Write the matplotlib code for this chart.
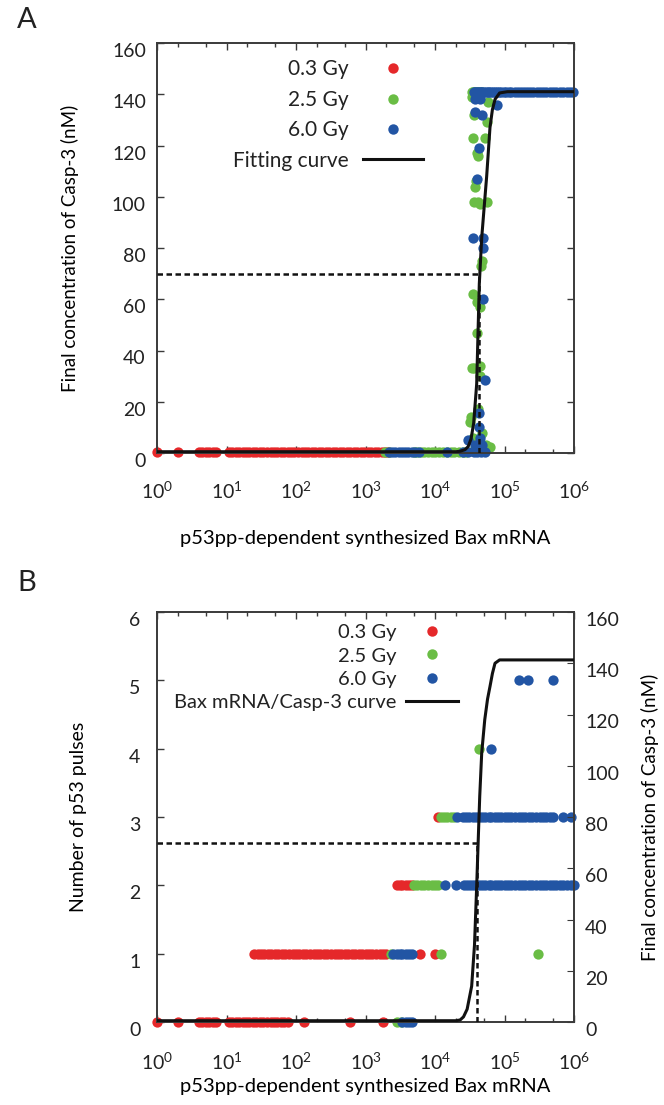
import numpy as np
import matplotlib
matplotlib.use("Agg")
import matplotlib.pyplot as plt
from matplotlib.ticker import LogLocator, FixedLocator, FuncFormatter, NullFormatter
from matplotlib.lines import Line2D
from matplotlib.transforms import ScaledTranslation

plt.rcParams['font.family'] = ['Lato', 'DejaVu Sans']
plt.rcParams['mathtext.fontset'] = 'custom'
plt.rcParams['mathtext.rm'] = 'Lato'
plt.rcParams['mathtext.it'] = 'Lato:italic'
plt.rcParams['text.color'] = '#222222'

RED = '#e5282a'
GREEN = '#6abd45'
BLUE = '#2255a4'

# ---------------- Panel A data: Bax mRNA vs final Casp-3 (nM) ----------------
a_red_x = [1, 2, 4, 4.5, 5, 5.6, 6.3, 7, 11, 12, 13.5, 15, 17, 19, 21, 24, 27, 30, 34,
           38, 43, 48, 54, 60, 68, 76, 85, 95, 107, 120, 135, 150, 170, 190, 215, 240,
           270, 300, 340, 380, 430, 480, 540, 600, 680, 760, 850, 950, 1070, 1200,
           1350, 1500, 1700, 1900, 2100]

# 2.5 Gy: low branch, plateau, transition cells
a_green_low_x = [1900, 2200, 5000, 5600, 6300, 7000, 8000, 9000, 10000, 11500, 13000,
                 15000, 17000, 19000, 22000, 25000, 28000]
a_green_top_x = [34000, 35000, 36500, 38000, 40000, 42000, 45000, 48000]
a_green_mid_x = [34000, 58000, 36500, 55400, 34700, 52500, 39800, 41000, 37600, 38500,
                 36500, 41700, 44000, 55400, 47000, 46000, 35600, 39800, 44000, 40600,
                 33700, 36000, 44700, 44700, 31900, 33000, 41000, 47000, 35000, 55000,
                 61800, 38000]
a_green_mid_y = [139, 137, 132, 129, 123, 123, 117, 116, 104, 106,
                 98, 98, 97, 98, 75, 73, 62, 59, 57, 47,
                 33, 33, 34, 30, 12, 14, 17, 8, 6, 3,
                 2.5, 2]

# 6.0 Gy
a_blue_low_x = [2200, 2400, 2700, 3000, 3300, 3700, 4100, 4600, 5200, 5800, 15000, 25000,
                30000, 36000, 40000, 46000, 52000]
a_blue_top_x = [36000, 38000, 40000, 42000, 44000, 46000, 48000, 51000, 54000, 57000,
                60000, 64000, 68000, 73000, 78000, 84000, 90000, 97000, 105000, 115000,
                125000, 140000, 155000, 170000, 190000, 210000, 235000, 260000, 290000,
                320000, 360000, 400000, 450000, 500000, 560000, 630000, 700000, 790000,
                880000, 980000]
a_blue_mid_x = [38000, 42000, 45000, 37600, 47000, 77000, 43400, 40600, 35600, 49600,
                48500, 49600, 52500, 43400, 43400, 44000, 30000, 38000, 48000]
a_blue_mid_y = [138, 139, 138, 133, 132, 136, 119, 107, 84, 84,
                80, 60, 28.5, 15.5, 10, 6, 5, 3, 3]

low_level = 0.5
top_level = 141

# fitted Bax mRNA / Casp-3 curves
a_curve_x = [1, 20000, 23000, 27000, 30000, 33000, 36000, 39800, 43400, 47000, 51000,
             55400, 61800, 67000, 73000, 85000, 110000, 1000000]
a_curve_y = [0.5, 0.5, 0.7, 1.3, 2.5, 5.5, 11.6, 27, 66, 84, 96, 108, 127, 134, 138,
             140.5, 141, 141]
a_threshold_x = 43400

b_curve_x = [1, 20000, 23000, 25700, 29000, 33700, 37000, 39800, 42000, 44000, 47000,
             52000, 57000, 61900, 67000, 73000, 85000, 1000000]
b_curve_y = [0.5, 0.5, 0.8, 2, 5, 14, 30, 53, 72, 88, 105, 118, 126, 131, 136, 140,
             141.3, 141.3]
b_threshold_x = 40600

threshold_y = 70

# ---------------- Panel B data: Bax mRNA per number of p53 pulses ----------------
b_red_p0 = [1, 2, 4, 4.5, 5, 5.6, 6.3, 7, 11, 12, 13.5, 15, 17, 19, 21, 24, 27, 30, 34,
            38, 43, 48, 54, 60, 68, 76, 130, 600, 1800]
b_red_p1 = [25, 28, 31, 35, 39, 44, 50, 56, 63, 70, 80, 90, 100, 112, 125, 140, 160, 180,
            200, 225, 250, 280, 320, 360, 400, 450, 500, 560, 630, 700, 800, 900, 1000,
            1120, 1250, 1400, 1600, 1800, 2000, 6000, 10000]
b_red_p2 = [2800, 3100, 3400, 3800, 4200, 4700]
b_red_p3 = [11000]

b_green_p0 = [2800, 3200]
b_green_p1 = [2300, 12000, 300000]
b_green_p2 = [5000, 5600, 6300, 7000, 8000, 9000, 10000, 11000]
b_green_p3 = [12000, 13500, 15000, 17000, 19000]
b_green_p4 = [43000]

b_blue_p0 = [3400, 3800, 4200, 4700]
b_blue_p1 = [2500, 2800, 3100, 3400, 3800, 4200, 4700]
b_blue_p2 = [14000, 20000, 26000, 29000, 32000, 35000, 39000, 43000, 48000, 53000, 59000,
             65000, 72000, 80000, 90000, 100000, 112000, 125000, 140000, 160000, 180000,
             200000, 225000, 250000, 280000, 320000, 360000, 400000, 450000, 500000,
             560000, 630000, 700000, 800000, 900000, 1000000]
b_blue_p3 = [21000, 25000, 28000, 31000, 35000, 39000, 43000, 48000, 53000, 59000, 65000,
             72000, 80000, 90000, 100000, 112000, 125000, 140000, 160000, 180000, 200000,
             225000, 250000, 280000, 320000, 360000, 400000, 450000, 500000, 700000, 900000]
b_blue_p4 = [65000]
b_blue_p5 = [160000, 220000, 500000]

doses = ['0.3 Gy', '2.5 Gy', '6.0 Gy']
xticks = [1, 10, 100, 1000, 10000, 100000, 1000000]


def rows(*groups):
    # groups: (x list, y value or y list)
    xs, ys = [], []
    for gx, gy in groups:
        xs += list(gx)
        ys += list(gy) if isinstance(gy, list) else [gy] * len(gx)
    return xs, ys


fig = plt.figure(figsize=(6.64, 11.05), dpi=100)
W, H = 664, 1105


def place(left, top, right, bottom):
    return [left / W, 1 - bottom / H, (right - left) / W, (bottom - top) / H]


def style_log_x(ax):
    ax.set_xscale('log')
    ax.set_xlim(1, 1e6)
    ax.xaxis.set_major_locator(FixedLocator(xticks))
    ax.xaxis.set_minor_locator(LogLocator(base=10, subs=[2, 5], numticks=20))
    ax.xaxis.set_minor_formatter(NullFormatter())
    ax.xaxis.set_major_formatter(FuncFormatter(
        lambda v, p: r'$\mathregular{10^{%d}}$' % round(np.log10(v))))
    for s in ax.spines.values():
        s.set_color('#3a3a3a')
        s.set_linewidth(1.4)


def dashed_threshold(ax, tx):
    ax.plot([1, tx], [threshold_y, threshold_y], color='#111111', lw=1.8,
            ls=(0, (2.2, 1.4)), zorder=3)
    ax.plot([tx, tx], [0, threshold_y], color='#111111', lw=1.8,
            ls=(0, (2.2, 1.4)), zorder=3)


def legend_handles():
    hs = [Line2D([], [], ls='', marker='o', ms=7.5, color=c, mew=0) for c in (RED, GREEN, BLUE)]
    hs.append(Line2D([], [], color='#111111', lw=2.2))
    return hs


dot = 55
tick_fs = 14

# ---------------- Panel A ----------------
ax1 = fig.add_axes(place(157, 43, 574, 453))
gx, gy = rows((a_green_low_x, low_level), (a_green_top_x, top_level), (a_green_mid_x, a_green_mid_y))
bx, by = rows((a_blue_low_x, low_level), (a_blue_top_x, top_level), (a_blue_mid_x, a_blue_mid_y))
ax1.scatter(a_red_x, [low_level] * len(a_red_x), s=dot, color=RED, lw=0, zorder=2, clip_on=False)
ax1.scatter(gx, gy, s=dot, color=GREEN, lw=0, zorder=2, clip_on=False)
ax1.scatter(bx, by, s=dot, color=BLUE, lw=0, zorder=2, clip_on=False)
dashed_threshold(ax1, a_threshold_x)
ax1.plot(a_curve_x, a_curve_y, color='#111111', lw=2.2, zorder=4)
style_log_x(ax1)
ax1.set_ylim(0, 160)
ax1.set_yticks(range(0, 161, 20))
ax1.tick_params(which='both', direction='in', top=True, right=True, labelsize=tick_fs,
                colors='#3a3a3a', labelcolor='#222222')
ax1.tick_params(which='major', length=5, width=1)
ax1.tick_params(which='minor', length=3, width=1)
ax1.tick_params(axis='x', pad=20)
ax1.tick_params(axis='y', pad=8)
ax1.set_xlabel('p53pp-dependent synthesized Bax mRNA', fontsize=14.5, labelpad=20)
ax1.set_ylabel('Final concentration of Casp-3 (nM)', fontsize=13.5, labelpad=24)

ax1.legend(legend_handles(), doses + ['Fitting curve'], loc='upper right',
           bbox_to_anchor=(0.638, 0.96), borderpad=0, borderaxespad=0,
           frameon=False, markerfirst=False, fontsize=15, handlelength=2.9,
           labelspacing=0.5, handletextpad=0.65)
fig.text(17 / W, 1 - 20 / H, 'A', fontsize=21, va='center', ha='left')

# ---------------- Panel B ----------------
ax2 = fig.add_axes(place(157, 612, 574, 1022))
rx, ry = rows((b_red_p0, 0), (b_red_p1, 1), (b_red_p2, 2), (b_red_p3, 3))
gx, gy = rows((b_green_p0, 0), (b_green_p1, 1), (b_green_p2, 2), (b_green_p3, 3), (b_green_p4, 4))
bx, by = rows((b_blue_p0, 0), (b_blue_p1, 1), (b_blue_p2, 2), (b_blue_p3, 3), (b_blue_p4, 4),
              (b_blue_p5, 5))
ax2.scatter(rx, ry, s=dot, color=RED, lw=0, zorder=2, clip_on=False)
ax2.scatter(gx, gy, s=dot, color=GREEN, lw=0, zorder=2, clip_on=False)
ax2.scatter(bx, by, s=dot, color=BLUE, lw=0, zorder=2, clip_on=False)
style_log_x(ax2)
ax2.set_ylim(0, 6)
ax2.set_yticks(range(0, 7))
ax2.tick_params(which='both', direction='in', top=True, labelsize=tick_fs,
                colors='#3a3a3a', labelcolor='#222222')
ax2.tick_params(which='major', length=5, width=1)
ax2.tick_params(which='minor', length=3, width=1)
ax2.tick_params(axis='x', pad=21)
ax2.tick_params(axis='y', pad=12)
ax2.set_xlabel('p53pp-dependent synthesized Bax mRNA', fontsize=14.5, labelpad=4)
ax2.set_ylabel('Number of p53 pulses', fontsize=14, labelpad=30)

ax3 = ax2.twinx()
ax3.set_ylim(0, 160)
ax3.set_yticks(range(0, 161, 20))
dashed_threshold(ax3, b_threshold_x)
ax3.plot(b_curve_x, b_curve_y, color='#111111', lw=2.2, zorder=4)
ax3.set_xlim(1, 1e6)
ax3.tick_params(which='both', direction='in', labelsize=tick_fs, colors='#3a3a3a',
                labelcolor='#222222', length=5, pad=8)
ax3.set_ylabel('Final concentration of Casp-3 (nM)', fontsize=13.5, labelpad=16)
for s in ax3.spines.values():
    s.set_visible(False)

ax3.legend(legend_handles(), doses + ['Bax mRNA/Casp-3 curve'], loc='upper right',
           bbox_to_anchor=(0.722, 0.97), borderpad=0, borderaxespad=0,
           frameon=False, markerfirst=False, fontsize=14.5, handlelength=2.6,
           labelspacing=0.3, handletextpad=0.45)
fig.text(17 / W, 1 - 583 / H, 'B', fontsize=21, va='center', ha='left')

# y tick labels in the original sit a little below their ticks
fig.canvas.draw()
shift = ScaledTranslation(0, -7 / 100, fig.dpi_scale_trans)
for ax in (ax1, ax2, ax3):
    for t in ax.yaxis.get_major_ticks():
        t.label1.set_transform(t.label1.get_transform() + shift)
        t.label2.set_transform(t.label2.get_transform() + shift)

fig.savefig('out.png', dpi=100)
